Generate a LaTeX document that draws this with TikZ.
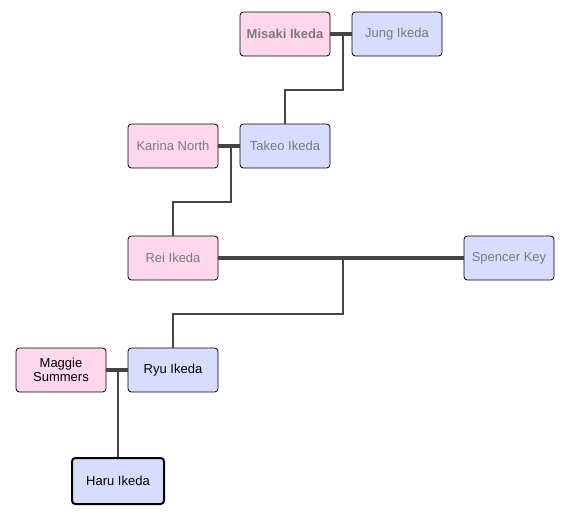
\documentclass[tikz,border=0pt]{standalone}
\usepackage{fontspec}
\setmainfont{Liberation Sans}
\usetikzlibrary{positioning, calc}

\definecolor{femalefill}{HTML}{FFD7EC}
\definecolor{malefill}{HTML}{D7DDFF}
\definecolor{linegray}{HTML}{444444}
\definecolor{dimtext}{HTML}{7A7A7A}

\begin{document}
\begin{tikzpicture}[x=0.75pt, y=-0.75pt,
        % Style definitions
        person/.style={
            rectangle,
            rounded corners=2.5pt,
            draw=black,
            line width=0.6pt,
            minimum width=67.5pt,
            minimum height=33pt,
            inner sep=1pt,
            align=center,
            font=\fontsize{9.75}{11}\selectfont
        },
        female/.style={person, fill=femalefill},
        male/.style={person, fill=malefill},
        faded/.style={text=dimtext},
        couple/.style={draw=linegray, line width=3pt},
        descent/.style={draw=linegray, line width=1.5pt}
    ]

        % bounding box
        \useasboundingbox (0,0) rectangle (569,515);

        % ==========================================
        % Nodes / Persons
        % ==========================================
        % First generation
        \node (misaki) [female, faded, font=\fontsize{9.75}{11}\selectfont\bfseries] at (285,34) {Misaki Ikeda};
        \node (jung) [male, faded] at (397,34) {Jung Ikeda};

        % Second generation
        \node (karina) [female, faded] at (173,146) {Karina North};
        \node (takeo) [male, faded] at (285,146) {Takeo Ikeda};

        % Third generation
        \node (rei) [female, faded] at (173,258) {Rei Ikeda};
        \node (spencer) [male, faded] at (509,258) {Spencer Key};

        % Fourth generation
        \node (maggie) [female] at (61,370) {Maggie\\Summers};
        \node (ryu) [male] at (173,370) {Ryu Ikeda};

        % Fifth generation
        \node (haru) [male, line width=1.5pt, minimum width=69pt, minimum height=34.5pt] at (118,481) {Haru Ikeda};

        % ==========================================
        % Connections / Lines
        % ==========================================
        % Couple lines
        \draw [couple] (misaki.east) -- (jung.west);
        \draw [couple] (karina.east) -- (takeo.west);
        \draw [couple] (rei.east) -- (spencer.west);
        \draw [couple] (maggie.east) -- (ryu.west);

        % Branch points of the children
        \coordinate (mj) at (343,34);
        \coordinate (mjdown) at (343,90);
        \coordinate (kt) at (231,146);
        \coordinate (ktdown) at (231,202);
        \coordinate (rs) at (343,258);
        \coordinate (rsdown) at (343,314);
        \coordinate (mr) at (118,370);

        % Lines down to the children
        \draw [descent] (mj) -- (mjdown) -| (takeo.north);
        \draw [descent] (kt) -- (ktdown) -| (rei.north);
        \draw [descent] (rs) -- (rsdown) -| (ryu.north);
        \draw [descent] (mr) -- (haru.north);

    \end{tikzpicture}
\end{document}
